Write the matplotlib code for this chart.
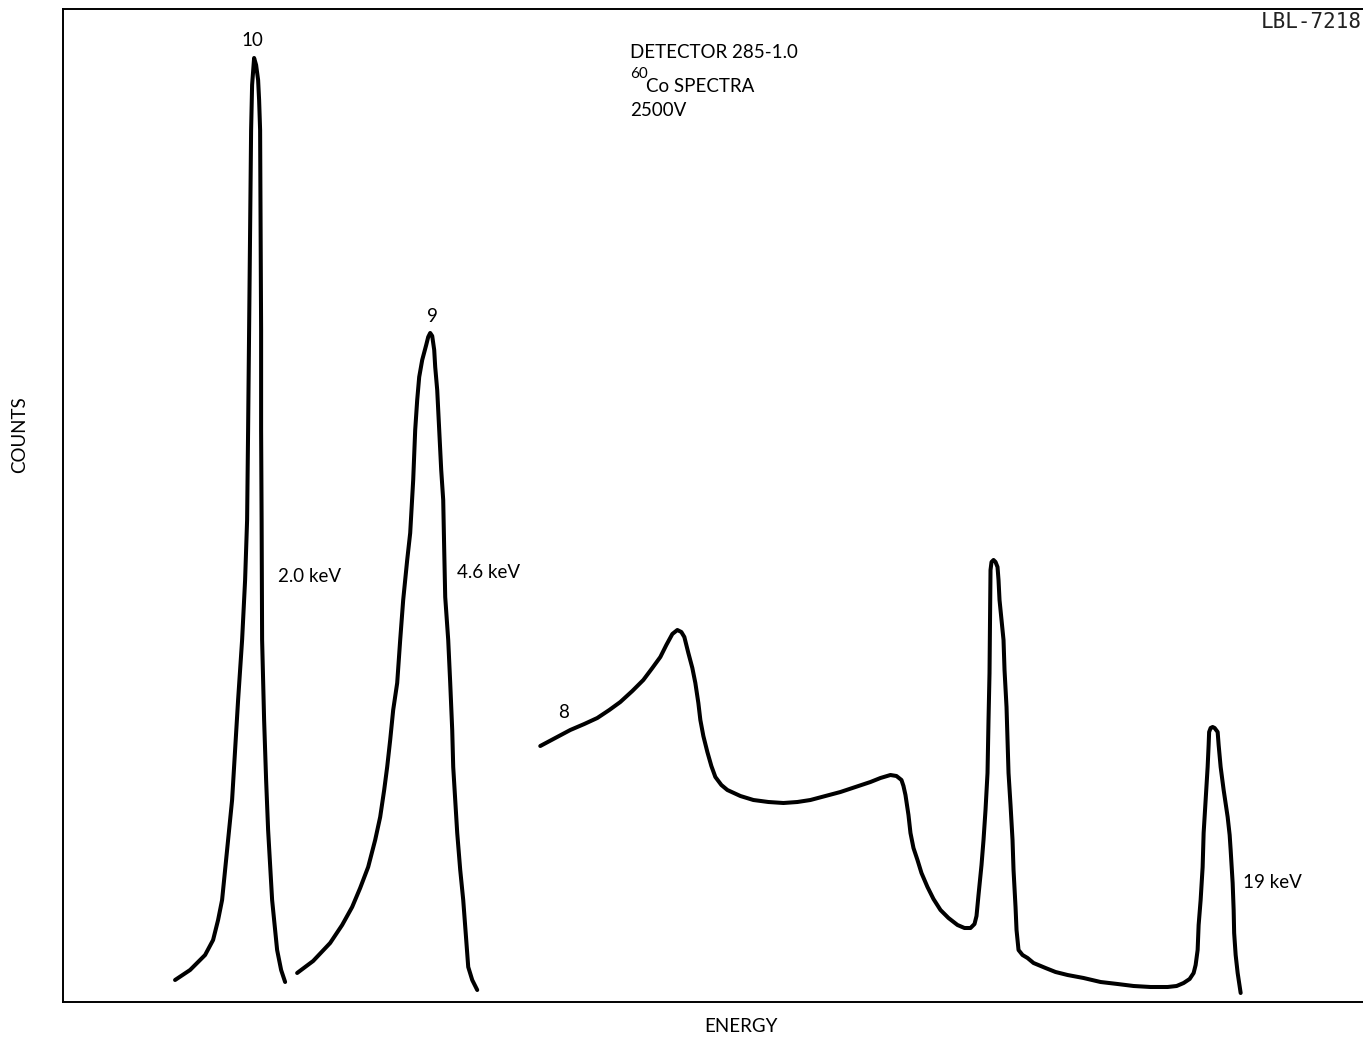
"""60Co spectra from detector 285-1.0 at 2500 V, hand-drawn style spectrum."""
import matplotlib
matplotlib.use("Agg")
import matplotlib.pyplot as plt

plt.rcParams["font.family"] = ["Lato", "DejaVu Sans"]

# channel (energy, arbitrary) and counts (arbitrary)
e10 = [112, 127, 142, 150, 155, 159, 164, 169, 175, 179, 182, 184, 185, 186, 187, 188, 189,
       191, 193, 195, 196, 197, 197.5, 198, 198, 198.5, 199, 201, 203, 205, 209, 214, 218, 222]
c10 = [22, 32, 47, 62, 82, 102, 152, 202, 302, 362, 422, 482, 572, 672, 772, 872, 917,
       944, 937, 922, 902, 872, 772, 672, 572, 482, 362, 282, 222, 172, 102, 52, 32, 20]

e9 = [234, 250, 267, 279, 289, 297, 305, 312, 317, 321, 324, 327, 330, 334, 337, 340, 344,
      347, 350, 352, 354, 356, 359, 363, 365, 367, 369, 371, 372, 374, 376, 378, 380, 381,
      382, 385, 387, 389, 390, 392, 394, 397, 400, 403, 405, 409, 414]
c9 = [29, 41, 59, 77, 95, 114, 135, 162, 185, 212, 235, 262, 292, 319, 362, 402, 442,
      469, 522, 572, 602, 625, 642, 657, 665, 669, 666, 652, 635, 612, 572, 532, 502, 452,
      405, 362, 319, 272, 235, 202, 169, 132, 102, 62, 35, 22, 12]

e8 = [477, 492, 507, 521, 534, 546, 557, 569, 580, 589, 597, 603, 609, 614, 618, 621, 623,
      625, 629, 632, 635, 637, 640, 644, 648, 652, 658, 664, 677, 690, 705, 720, 734, 747,
      762, 777, 792, 807, 817, 827, 833, 838, 840, 842, 845, 847, 850, 854, 858, 864, 870,
      877, 885, 894, 901, 907, 911, 913, 915, 918, 920, 922, 924, 925, 926, 926.5, 927, 928,
      930, 932, 934, 935, 936, 938, 940, 941, 943, 944, 945, 947, 949, 950, 952, 953, 955,
      959, 964, 970, 982, 992, 1004, 1020, 1037, 1054, 1070, 1087, 1104, 1113, 1120, 1126,
      1130, 1132, 1134, 1135, 1137, 1139, 1140, 1142, 1144, 1145, 1145.5, 1147, 1149, 1151,
      1154, 1155, 1157, 1160, 1164, 1166, 1167, 1169, 1170, 1170.5, 1172, 1174, 1177]
c8 = [256, 264, 272, 278, 284, 292, 300, 311, 322, 334, 345, 357, 368, 372, 370, 365, 357,
      349, 334, 319, 299, 282, 266, 250, 236, 225, 217, 212, 206, 202, 200, 199, 200, 202,
      206, 210, 215, 220, 224, 227, 226, 222, 216, 207, 187, 169, 154, 142, 129, 115, 103,
      92, 84, 77, 74, 74, 78, 86, 107, 137, 162, 192, 229, 282, 329, 382, 432, 440,
      442, 440, 435, 422, 402, 382, 362, 332, 295, 262, 229, 197, 162, 132, 95, 72, 52,
      47, 44, 39, 34, 30, 27, 24, 20, 18, 16, 15, 15, 16, 19, 23,
      29, 37, 52, 77, 102, 135, 169, 202, 235, 257, 270, 274, 275, 274,
      270, 257, 235, 212, 185, 167, 152, 119, 92, 69, 47, 29, 9]

W, H = 1363, 1037
fig = plt.figure(figsize=(W / 100, H / 100), dpi=100)
ax = fig.add_axes([63 / W, 35 / H, 1.0 - 63 / W + 0.002, 993 / H])

for e, c in [(e10, c10), (e9, c9), (e8, c8)]:
    ax.plot(e, c, color="black", lw=2.9, solid_capstyle="round", solid_joinstyle="round")

ax.set_xlim(0, 1302)
ax.set_ylim(0, 993)
ax.set_xticks([]); ax.set_yticks([])
ax.spines["right"].set_visible(False)
for s in ["left", "top", "bottom"]:
    ax.spines[s].set_linewidth(1.4)

fs = 13.5
ax.text(189, 962, "10", ha="center", va="center", fontsize=fs)
ax.text(369, 685, "9", ha="center", va="center", fontsize=fs)
ax.text(500, 289, "8", ha="center", va="center", fontsize=fs)
ax.text(215, 425, "2.0 keV", ha="left", va="center", fontsize=fs)
ax.text(394, 429, "4.6 keV", ha="left", va="center", fontsize=fs)
ax.text(1179, 119, "19 keV", ha="left", va="center", fontsize=fs)

ax.text(567, 950, "DETECTOR 285-1.0", ha="left", va="center", fontsize=fs)
ax.text(567, 928, "60", ha="left", va="center", fontsize=fs - 2.5)
ax.text(583, 915, "Co SPECTRA", ha="left", va="center", fontsize=fs)
ax.text(567, 891, "2500V", ha="left", va="center", fontsize=fs)

fig.text(1362 / W, 1 - 22 / H, "LBL-7218", ha="right", va="center",
         fontsize=15, family="DejaVu Sans Mono", color="#222222")
fig.text(20 / W, 1 - 435 / H, "COUNTS", rotation=90, ha="center", va="center", fontsize=fs)
fig.text(741 / W, 1 - 1027 / H, "ENERGY", ha="center", va="center", fontsize=fs)

fig.savefig("out.png", dpi=100)
